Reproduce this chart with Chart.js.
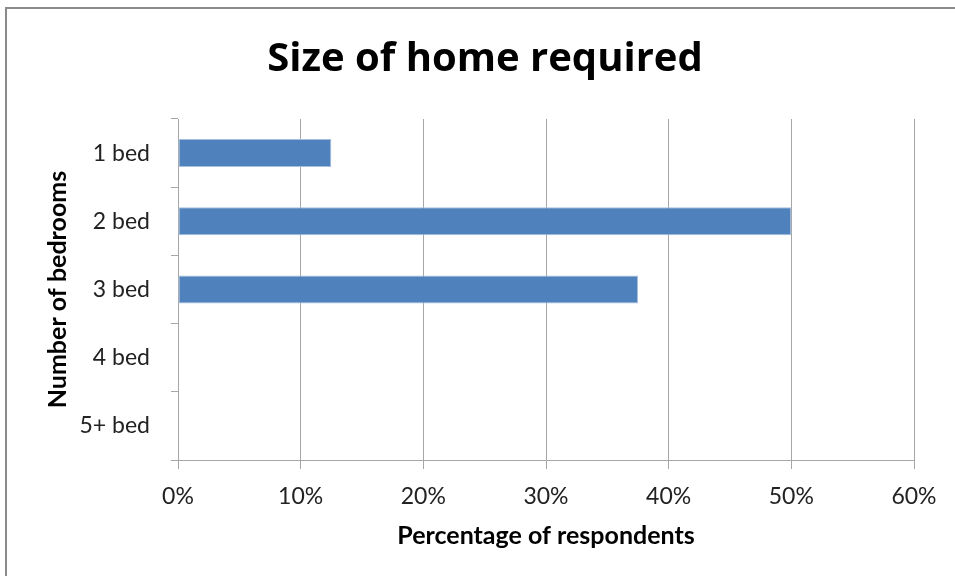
<!DOCTYPE html>
<html lang="en">
  <head>
    <meta charset="UTF-8" />
    <title>Size of home required</title>
    <style>
      body {
        margin: 0;
        padding: 0;
        background-color: #fff;
        overflow: hidden;
      }

      #wrap {
        position: relative;
        width: 955px;
        height: 576px;
        overflow: hidden;
      }

      /* frame line round the chart, cut off at right and bottom */
      #frame {
        position: absolute;
        left: 5px;
        top: 7px;
        width: 1000px;
        height: 1000px;
        border-left: 2px solid #8a8a8a;
        border-top: 2px solid #8a8a8a;
        pointer-events: none;
      }
    </style>
  </head>
  <body>
    <div id="wrap">
      <canvas id="chart" width="955" height="576"></canvas>
      <div id="frame"></div>
    </div>

    <script src="https://cdn.jsdelivr.net/npm/chart.js"></script>
    <script>
      var categories = ["1 bed", "2 bed", "3 bed", "4 bed", "5+ bed"];
      var percentages = [12.5, 50, 37.5, 0, 0];
      var tickValues = [0, 10, 20, 30, 40, 50, 60];

      var gridGrey = "#a6a6a6";
      var fontName = "Lato, 'Open Sans', sans-serif";

      var ctx = document.getElementById("chart").getContext("2d");
      var chart = new Chart(ctx, {
        type: "bar",
        data: {
          labels: categories,
          datasets: [
            {
              data: percentages,
              backgroundColor: "#4f81bd",
              borderColor: "#a7bfde",
              borderWidth: 1,
              borderSkipped: false,
              barPercentage: 0.41,
              categoryPercentage: 1,
            },
          ],
        },
        options: {
          indexAxis: "y",
          responsive: false,
          animation: false,
          // left padding pushes the centred title over to the right
          layout: {
            padding: { left: 56, top: 0, right: 41, bottom: 0 },
          },
          plugins: {
            legend: { display: false },
            tooltip: { enabled: false },
            title: {
              display: true,
              text: "Size of home required",
              color: "#000",
              font: { family: "'Open Sans', sans-serif", size: 40, weight: "bold" },
              padding: { top: 36, bottom: 35 },
            },
          },
          scales: {
            x: {
              min: 0,
              max: 60,
              afterFit: function (scale) {
                scale.height = 116;
              },
              afterBuildTicks: function (scale) {
                scale.ticks = tickValues.map(function (v) {
                  return { value: v };
                });
              },
              ticks: {
                color: "#222",
                padding: 14,
                font: { family: fontName, size: 23 },
                callback: function (v) {
                  return v + "%";
                },
              },
              grid: {
                color: gridGrey,
                lineWidth: 1,
                tickLength: 9,
              },
              border: { color: gridGrey, width: 1 },
              title: {
                display: true,
                text: "Percentage of respondents",
                color: "#000",
                font: { family: fontName, size: 25, weight: "bold" },
                padding: { top: 0, bottom: 25 },
              },
            },
            y: {
              afterFit: function (scale) {
                scale.width = 122;
              },
              ticks: {
                color: "#222",
                padding: 21,
                font: { family: fontName, size: 23 },
              },
              grid: {
                offset: true,
                drawOnChartArea: false,
                color: gridGrey,
                tickLength: 7,
              },
              border: { color: gridGrey, width: 1 },
              title: {
                display: true,
                text: "Number of bedrooms",
                color: "#000",
                font: { family: fontName, size: 25, weight: "bold" },
                padding: { top: -13, bottom: 0 },
              },
            },
          },
        },
      });
    </script>
  </body>
</html>
